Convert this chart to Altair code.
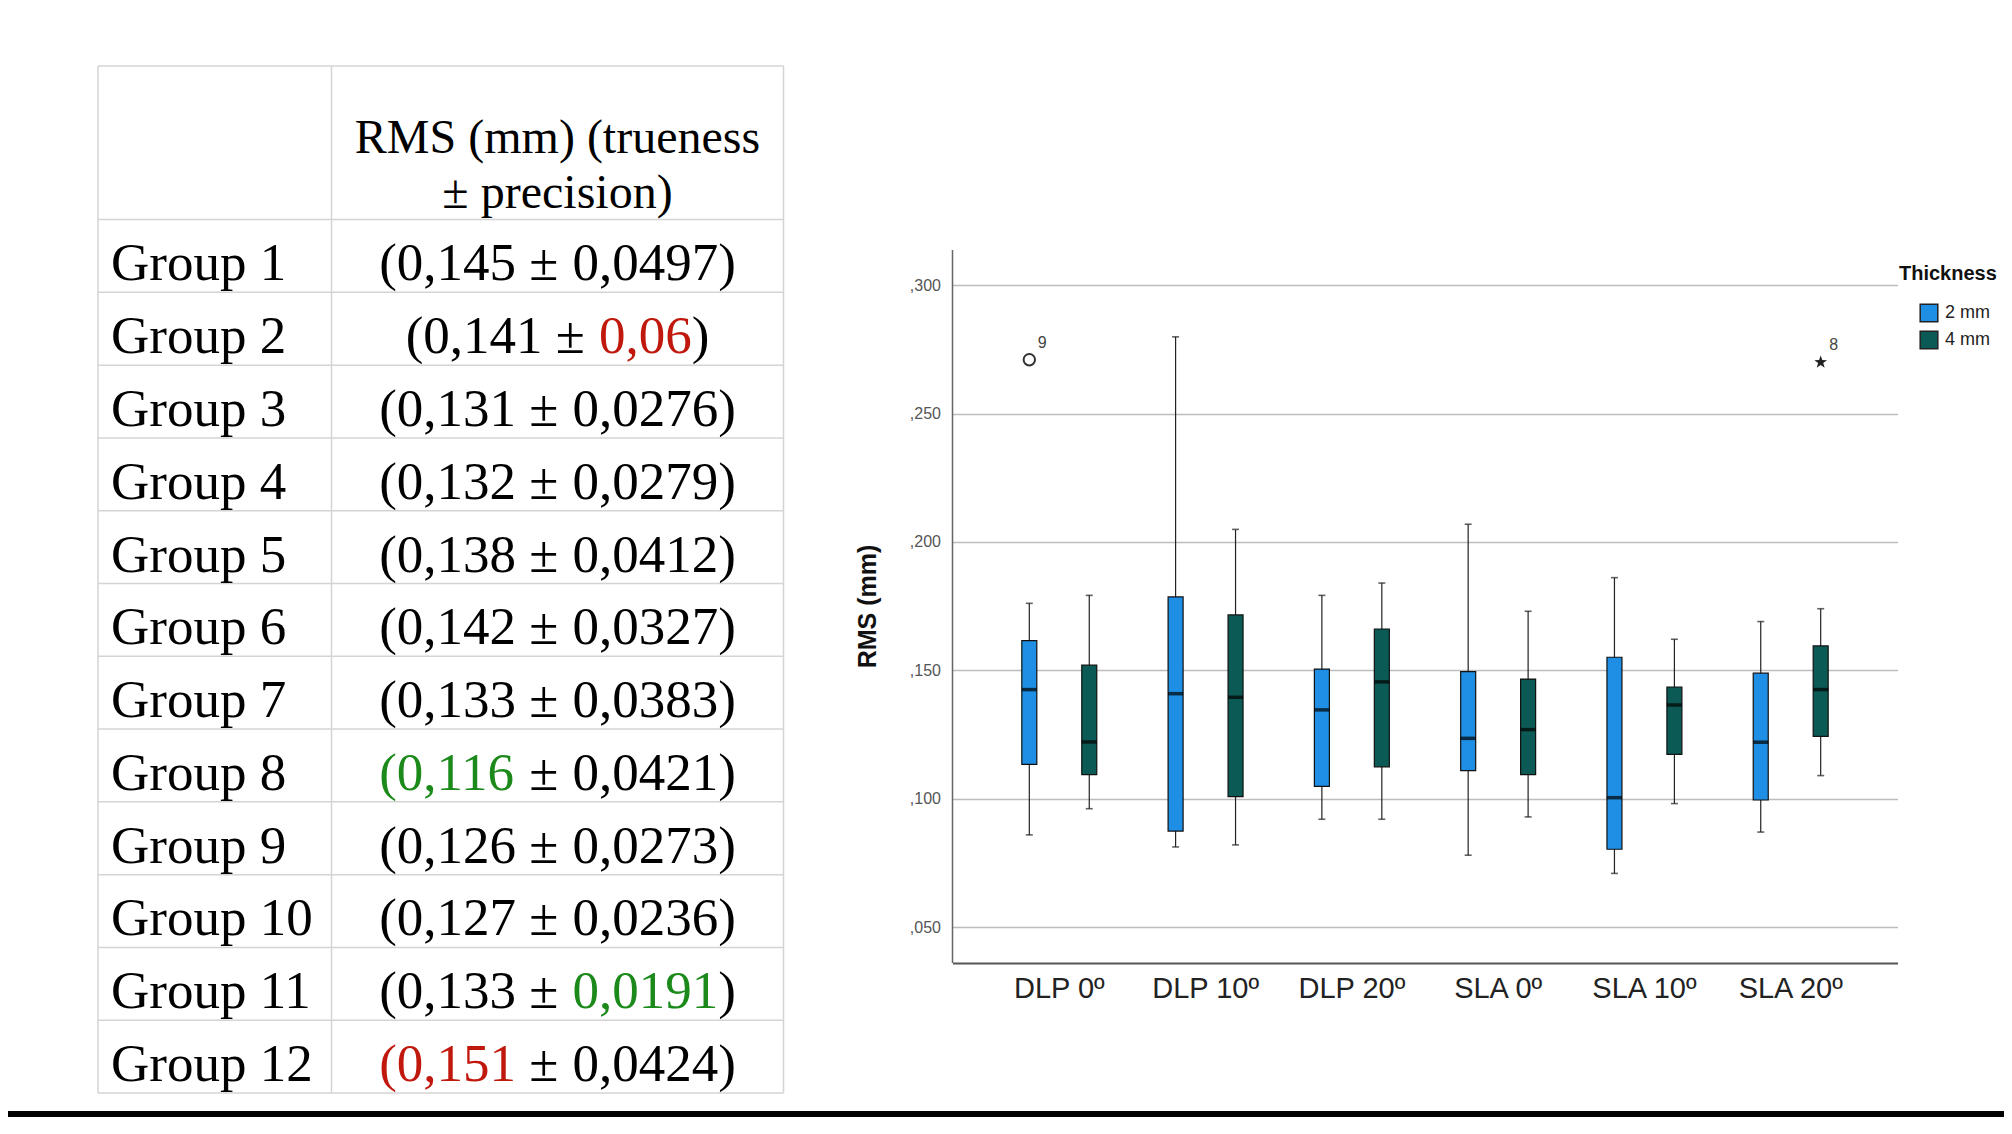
import altair as alt
import pandas as pd

# ---------------- table data ----------------
GROUPS = ["Group 1", "Group 2", "Group 3", "Group 4", "Group 5", "Group 6",
          "Group 7", "Group 8", "Group 9", "Group 10", "Group 11", "Group 12"]
TRUENESS = ["0,145", "0,141", "0,131", "0,132", "0,138", "0,142",
            "0,133", "0,116", "0,126", "0,127", "0,133", "0,151"]
PRECISION = ["0,0497", "0,06", "0,0276", "0,0279", "0,0412", "0,0327",
             "0,0383", "0,0421", "0,0273", "0,0236", "0,0191", "0,0424"]
TRUENESS_FLAG = ["", "", "", "", "", "", "", "best", "", "", "", "worst"]
PRECISION_FLAG = ["", "worst", "", "", "", "", "", "", "", "", "best", ""]
HEADER = ["RMS (mm) (trueness", "\u00b1 precision)"]

# ---------------- box plot data ----------------
CATEGORIES = ["DLP 0\u00ba", "DLP 10\u00ba", "DLP 20\u00ba", "SLA 0\u00ba", "SLA 10\u00ba", "SLA 20\u00ba"]
THICKNESS = ["2 mm", "4 mm"]

LO_2 = [0.0859, 0.0812, 0.0920, 0.0780, 0.0709, 0.0870]
Q1_2 = [0.1134, 0.0874, 0.1048, 0.1109, 0.0803, 0.0995]
MED_2 = [0.1425, 0.1409, 0.1346, 0.1235, 0.1004, 0.1220]
Q3_2 = [0.1616, 0.1786, 0.1505, 0.1495, 0.1551, 0.1489]
HI_2 = [0.1761, 0.2799, 0.1792, 0.2069, 0.1861, 0.1690]

LO_4 = [0.0961, 0.0820, 0.0920, 0.0929, 0.0981, 0.1090]
Q1_4 = [0.1094, 0.1008, 0.1124, 0.1094, 0.1173, 0.1243]
MED_4 = [0.1221, 0.1395, 0.1455, 0.1269, 0.1365, 0.1425]
Q3_4 = [0.1520, 0.1716, 0.1661, 0.1466, 0.1435, 0.1595]
HI_4 = [0.1792, 0.2049, 0.1840, 0.1730, 0.1621, 0.1740]

OUT_CATEGORY = ["DLP 0\u00ba", "SLA 20\u00ba"]
OUT_THICKNESS = ["2 mm", "4 mm"]
OUT_VALUE = [0.271, 0.270]
OUT_CASE = ["9", "8"]
OUT_KIND = ["outlier", "extreme"]

Y_TICKS = [0.05, 0.10, 0.15, 0.20, 0.25, 0.30]

# ---------------- styles / layout ----------------
BLUE = "#1e8fe4"
TEAL = "#0c5a55"
RED = "#c0180c"
GREEN = "#1b8a1b"
FLAG_COLOR = {"": "#000000", "best": GREEN, "worst": RED}
SERIF = "Liberation Serif"
SANS = "Liberation Sans"

TABLE_W = 685.5
COL1_W = 233.5
TABLE_H = 1027
HEADER_UNITS = 2.11
ROW_FONT = 53
HEAD_FONT = 48

BOX_W = 945
BOX_H = 897
Y_DOMAIN = [0.0360, 0.3854]
AXIS_TOP = 0.3137

# ---------------- table chart ----------------
n = len(GROUPS)
ty = alt.Scale(domain=[-HEADER_UNITS, n], reverse=True, nice=False, zero=False)

TIMES_W = {"(": 0.333, ")": 0.333, ",": 0.25, " ": 0.25, "\u00b1": 0.564}


def tw(s, size):
    return sum(TIMES_W.get(c, 0.5) for c in s) * size


value_center = (COL1_W + TABLE_W) / 2
seg_rows = []
for i in range(n):
    parts = [("(" + TRUENESS[i], FLAG_COLOR[TRUENESS_FLAG[i]]),
             ("\u00b1", "#000000"),
             (PRECISION[i], FLAG_COLOR[PRECISION_FLAG[i]]),
             (")", "#000000")]
    gaps = [0, tw(" ", ROW_FONT), tw(" ", ROW_FONT), 0]
    total = sum(tw(s, ROW_FONT) for s, _ in parts) + sum(gaps)
    x = value_center - total / 2
    for k, (s, c) in enumerate(parts):
        x += gaps[k]
        seg_rows.append({"row": i + 1, "x": x, "text": s, "color": c})
        x += tw(s, ROW_FONT)
seg_df = pd.DataFrame(seg_rows)

label_df = pd.DataFrame({"row": list(range(1, n + 1)), "label": GROUPS})
hline_df = pd.DataFrame({"b": [-HEADER_UNITS] + list(range(0, n + 1))})
vline_df = pd.DataFrame({"vx": [0, COL1_W, TABLE_W],
                         "ytop": [-HEADER_UNITS] * 3, "ybot": [n] * 3})
head_df = pd.DataFrame({"row": [0]})

hlines = alt.Chart(hline_df).mark_rule(color="#d4d4d4", strokeWidth=1.5).encode(
    y=alt.Y("b:Q", scale=ty, axis=None),
    x=alt.value(0), x2=alt.value(TABLE_W))
vlines = alt.Chart(vline_df).mark_rule(color="#d4d4d4", strokeWidth=1.5).encode(
    x=alt.X("vx:Q", scale=None),
    y=alt.Y("ytop:Q", scale=ty, axis=None), y2="ybot:Q")
labels = alt.Chart(label_df).mark_text(
    align="left", baseline="alphabetic", font=SERIF, fontSize=ROW_FONT,
    color="#000000", dy=-12).encode(
    x=alt.value(13), y=alt.Y("row:Q", scale=ty, axis=None), text="label:N")
segments = alt.Chart(seg_df).mark_text(
    align="left", baseline="alphabetic", font=SERIF, fontSize=ROW_FONT, dy=-12).encode(
    x=alt.X("x:Q", scale=None), y=alt.Y("row:Q", scale=ty, axis=None),
    text="text:N", color=alt.Color("color:N", scale=None))
header = alt.Chart(head_df).mark_text(
    text=HEADER, align="center", baseline="alphabetic", font=SERIF,
    fontSize=HEAD_FONT, lineHeight=55, color="#000000", dy=-67).encode(
    x=alt.value(value_center), y=alt.Y("row:Q", scale=ty, axis=None))
bottom_bar = alt.Chart(head_df).mark_rule(color="#000000", strokeWidth=6).encode(
    x=alt.value(-95), x2=alt.value(2000), y=alt.value(1048))

table = alt.layer(hlines, vlines, labels, segments, header, bottom_bar).properties(
    width=TABLE_W, height=TABLE_H)

# ---------------- box chart ----------------
rows = []
for i, c in enumerate(CATEGORIES):
    rows.append({"category": c, "thickness": THICKNESS[0], "lo": LO_2[i], "q1": Q1_2[i],
                 "med": MED_2[i], "q3": Q3_2[i], "hi": HI_2[i]})
    rows.append({"category": c, "thickness": THICKNESS[1], "lo": LO_4[i], "q1": Q1_4[i],
                 "med": MED_4[i], "q3": Q3_4[i], "hi": HI_4[i]})
box_df = pd.DataFrame(rows)
out_df = pd.DataFrame({"category": OUT_CATEGORY, "thickness": OUT_THICKNESS,
                       "value": OUT_VALUE, "case": OUT_CASE, "kind": OUT_KIND})
axis_df = pd.DataFrame({"a": [Y_DOMAIN[0]], "b": [AXIS_TOP]})

x_axis = alt.Axis(title=None, labelAngle=0, labelFont=SANS, labelFontSize=29,
                  labelColor="#222222", labelPadding=11, ticks=False, tickSize=0,
                  domainColor="#555555", domainWidth=1.8, grid=False)
y_axis = alt.Axis(values=Y_TICKS,
                  labelExpr="',' + substring(format(datum.value, '.3f'), 2)",
                  labelFont=SANS, labelFontSize=16, labelColor="#555555",
                  labelPadding=12, ticks=False, tickSize=0, domain=False,
                  grid=True, gridColor="#bdbdbd", gridWidth=1.5,
                  title="RMS (mm)", titleFont=SANS, titleFontSize=25,
                  titleFontWeight="bold", titleColor="#111111",
                  titleX=-72, titleY=540)

xs = alt.Scale(paddingInner=0, paddingOuter=0.23)
xos = alt.Scale(paddingInner=0, paddingOuter=0.22)


def X():
    return alt.X("category:N", sort=CATEGORIES, scale=xs, axis=x_axis)


def XO():
    return alt.XOffset("thickness:N", sort=THICKNESS, scale=xos)


def Y(f):
    return alt.Y(f"{f}:Q", scale=alt.Scale(domain=Y_DOMAIN, nice=False, zero=False),
                 axis=y_axis, title="RMS (mm)")


whisk = alt.Chart(box_df).mark_rule(color="#222222", strokeWidth=1.2).encode(
    x=X(), xOffset=XO(), y=Y("lo"), y2="hi:Q")
cap_lo = alt.Chart(box_df).mark_tick(size=7, thickness=1.6, color="#222222").encode(
    x=X(), xOffset=XO(), y=Y("lo"))
cap_hi = alt.Chart(box_df).mark_tick(size=7, thickness=1.6, color="#222222").encode(
    x=X(), xOffset=XO(), y=Y("hi"))
# legend is lifted to the top-level concat group: legendX/legendY are relative
# to the origin of the first (table) panel
boxes = alt.Chart(box_df).mark_bar(width=15, stroke="#111111", strokeWidth=1.2).encode(
    x=X(), xOffset=XO(), y=Y("q1"), y2="q3:Q",
    color=alt.Color("thickness:N", sort=THICKNESS,
                    scale=alt.Scale(domain=THICKNESS, range=[BLUE, TEAL]),
                    legend=alt.Legend(orient="none", legendX=1801, legendY=198,
                                      title="Thickness", titleFont=SANS,
                                      titleFontSize=20, titleFontWeight="bold",
                                      titleColor="#111111", titlePadding=19,
                                      symbolType="square", symbolSize=310,
                                      symbolStrokeColor="#222222",
                                      symbolStrokeWidth=1.5, symbolOffset=20,
                                      labelFont=SANS, labelFontSize=18,
                                      labelColor="#222222", labelOffset=6,
                                      rowPadding=3, padding=0)))
medians = alt.Chart(box_df).mark_tick(size=15, thickness=3.5, color="#000000").encode(
    x=X(), xOffset=XO(), y=Y("med"))

STAR = ("M0,-1L0.24,-0.33L0.95,-0.31L0.38,0.12L0.59,0.81L0,0.4L-0.59,0.81"
        "L-0.38,0.12L-0.95,-0.31L-0.24,-0.33Z")
out_circle = alt.Chart(out_df).transform_filter(alt.datum.kind == "outlier").mark_point(
    shape="circle", filled=False, size=130, strokeWidth=2, color="#333333", opacity=1).encode(
    x=X(), xOffset=XO(), y=Y("value"))
out_star = alt.Chart(out_df).transform_filter(alt.datum.kind == "extreme").mark_point(
    shape=STAR, filled=True, size=180, color="#222222", opacity=1).encode(
    x=X(), xOffset=XO(), y=Y("value"))
out_text = alt.Chart(out_df).mark_text(
    font=SANS, fontSize=16, color="#444444", dx=13, dy=-17).encode(
    x=X(), xOffset=XO(), y=Y("value"), text="case:N")
axis_line = alt.Chart(axis_df).mark_rule(color="#666666", strokeWidth=1.5).encode(
    x=alt.value(0), y=Y("a"), y2="b:Q")

box = alt.layer(whisk, cap_lo, cap_hi, boxes, medians, out_circle, out_star,
                out_text, axis_line).properties(width=BOX_W, height=BOX_H)

# fixed-size canvas (1996 x 1110) that fits the browser window; content origin at (90, 58)
chart = alt.hconcat(table, box, spacing=168.5, bounds="flush").properties(
    autosize=alt.AutoSizeParams(type="none"),
    padding={"left": 90, "top": 58, "right": 1906, "bottom": 1052}
).configure_view(strokeWidth=0)

chart.save("out.html", embed_options={"renderer": "svg", "actions": False})
